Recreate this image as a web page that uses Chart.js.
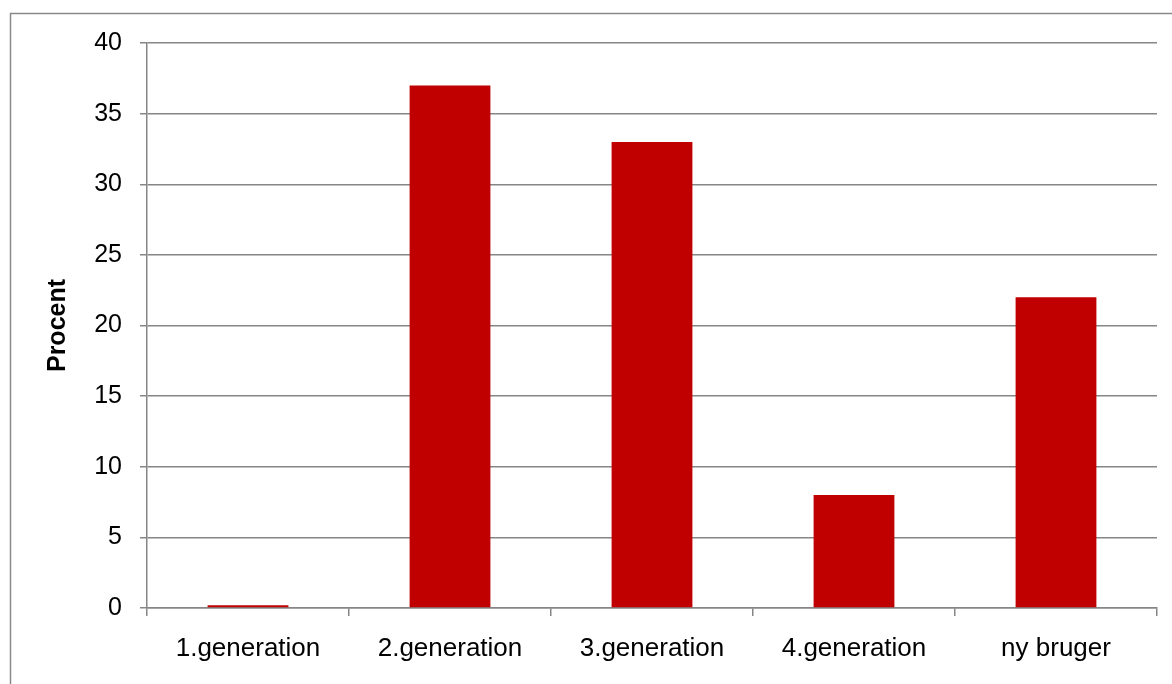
<!DOCTYPE html>
<html>
<head>
<meta charset="utf-8">
<script src="https://cdn.jsdelivr.net/npm/chart.js@4/dist/chart.umd.min.js"></script>
<style>
  html, body { margin: 0; padding: 0; background: #fff; }
  #wrap { width: 1172px; height: 684px; position: relative; }
</style>
</head>
<body>
<div id="wrap"><canvas id="c" width="1172" height="684"></canvas></div>
<script>
// Share of users per generation (percent)
const categories = ['1.generation', '2.generation', '3.generation', '4.generation', 'ny bruger'];
const procentValues = [0.2, 37, 33, 8, 22];
const yTicks = [0, 5, 10, 15, 20, 25, 30, 35, 40];

const GRID = '#868686';
const FONT = 'Liberation Sans, Arial, sans-serif';

// Outer frame, open on the right and bottom edges
const framePlugin = {
  id: 'frame',
  beforeDraw(chart) {
    const ctx = chart.ctx;
    ctx.save();
    ctx.fillStyle = '#fff';
    ctx.fillRect(0, 0, chart.width, chart.height);
    ctx.strokeStyle = '#8a8a8a';
    ctx.lineWidth = 1.5;
    ctx.strokeRect(10.5, 13.5, 1300, 800);
    ctx.restore();
  }
};

new Chart(document.getElementById('c'), {
  type: 'bar',
  data: {
    labels: categories,
    datasets: [{
      data: procentValues,
      backgroundColor: '#C00000',
      borderWidth: 0,
      categoryPercentage: 1,
      barPercentage: 0.4
    }]
  },
  options: {
    responsive: false,
    animation: false,
    devicePixelRatio: 1,
    layout: { padding: { left: 0, top: 43, right: 15, bottom: 0 } },
    plugins: { legend: { display: false }, tooltip: { enabled: false } },
    scales: {
      x: {
        grid: {
          offset: true,
          drawOnChartArea: false,
          drawTicks: true,
          tickLength: 8,
          color: GRID,
          lineWidth: 1.5
        },
        border: { display: true, color: GRID, width: 1.5 },
        ticks: { color: '#000', font: { family: FONT, size: 26 }, padding: 17 },
        afterFit(scale) { scale.height = 76; }
      },
      y: {
        min: 0,
        max: 40,
        afterBuildTicks(scale) { scale.ticks = yTicks.map(v => ({ value: v })); },
        grid: { color: GRID, lineWidth: 1.5, drawTicks: true, tickLength: 7 },
        border: { display: true, color: GRID, width: 1.5 },
        ticks: { color: '#000', font: { family: FONT, size: 25 }, padding: 18 },
        title: {
          display: true,
          text: 'Procent',
          color: '#000',
          font: { family: FONT, size: 25, weight: 'bold' },
          padding: { top: 43, bottom: 0 }
        },
        afterFit(scale) { scale.width = 147; }
      }
    }
  },
  plugins: [framePlugin]
});
</script>
</body>
</html>
